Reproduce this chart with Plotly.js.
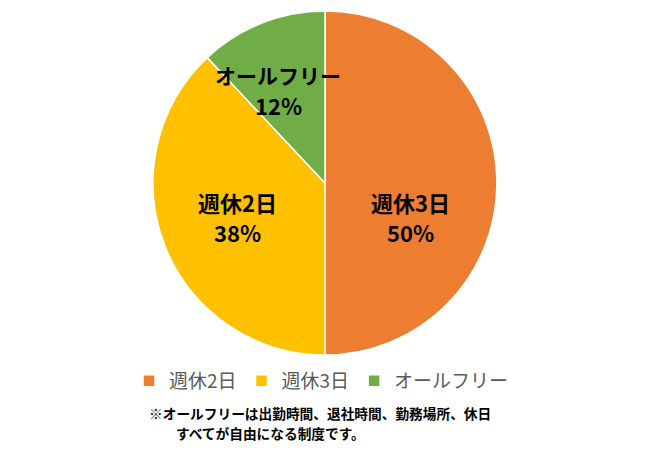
<!DOCTYPE html>
<html>
<head>
<meta charset="utf-8">
<script src="https://cdn.plot.ly/plotly-3.0.1.min.js"></script>
<style>html,body{margin:0;padding:0;background:#fff;}#chart{width:650px;height:451px;}</style>
</head>
<body>
<div id="chart"></div>
<script>
// Legend categories (as in the original chart) and slice values (%)
const categories = ['週休2日', '週休3日', 'オールフリー'];
const values = [50, 38, 12];
const colors = ['#ED7D31', '#FFC000', '#70AD47'];
// Data labels as written on the slices in the original
const sliceNames = ['週休3日', '週休2日', 'オールフリー'];
const noteLines = ['※オールフリーは出勤時間、退社時間、勤務場所、休日', 'すべてが自由になる制度です。'];

const font = '"Noto Sans CJK JP", "Noto Sans", sans-serif';
const H = 451, W = 650;

const trace = {
  type: 'pie',
  labels: categories,
  values: values,
  sort: false,
  direction: 'clockwise',
  rotation: 0,
  marker: {colors: colors, line: {color: '#ffffff', width: 1.5}},
  textinfo: 'none',
  hoverinfo: 'none',
  domain: {x: [0, 1], y: [(H - 355) / H, (H - 11) / H]}
};

// label block centres (pixels) for each slice
const labelPos = [[410, 217], [237, 217], [278, 90]];
const labelSize = [22, 22, 21];
const annotations = [];
sliceNames.forEach((n, i) => {
  const [px, py] = labelPos[i];
  annotations.push({
    xref: 'paper', yref: 'paper', x: px / W, y: (H - (py - 15)) / H,
    xanchor: 'center', yanchor: 'middle', showarrow: false,
    text: '<b>' + n + '</b>', font: {family: font, size: labelSize[i], color: '#000000'}
  });
  annotations.push({
    xref: 'paper', yref: 'paper', x: px / W, y: (H - (py + 15)) / H,
    xanchor: 'center', yanchor: 'middle', showarrow: false,
    text: '<b>' + values[i] + '%</b>', font: {family: font, size: 22, color: '#000000'}
  });
});
annotations.push({
  xref: 'paper', yref: 'paper', x: 147 / W, y: (H - 413) / H,
  xanchor: 'left', yanchor: 'middle', showarrow: false,
  text: '<b>' + noteLines[0] + '</b>', font: {family: font, size: 13.7, color: '#000000'}
});
annotations.push({
  xref: 'paper', yref: 'paper', x: 174 / W, y: (H - 433) / H,
  xanchor: 'left', yanchor: 'middle', showarrow: false,
  text: '<b>' + noteLines[1] + '</b>', font: {family: font, size: 13.7, color: '#000000'}
});

const layout = {
  width: W, height: H,
  margin: {l: 0, r: 0, t: 0, b: 0},
  paper_bgcolor: '#ffffff',
  showlegend: true,
  legend: {
    orientation: 'h', x: 129 / W, xanchor: 'left', y: (H - 381) / H, yanchor: 'middle',
    font: {family: font, size: 19, color: '#595959'},
    traceorder: 'normal'
  },
  annotations: annotations
};

Plotly.newPlot('chart', [trace], layout, {displayModeBar: false, staticPlot: true});
</script>
</body>
</html>
